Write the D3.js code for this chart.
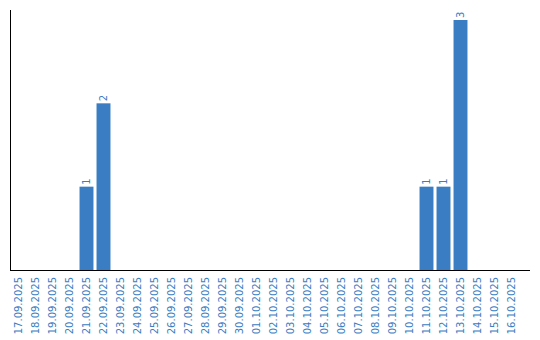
<!DOCTYPE html>
<html>
<head>
<meta charset="utf-8">
<script src="https://cdn.jsdelivr.net/npm/d3@7"></script>
<style>
  body { margin: 0; background: #fff; }
</style>
</head>
<body>
<div id="chart"></div>
<script>
// dates on the x axis
var days = ["17.09.2025", "18.09.2025", "19.09.2025", "20.09.2025", "21.09.2025",
    "22.09.2025", "23.09.2025", "24.09.2025", "25.09.2025", "26.09.2025",
    "27.09.2025", "28.09.2025", "29.09.2025", "30.09.2025", "01.10.2025",
    "02.10.2025", "03.10.2025", "04.10.2025", "05.10.2025", "06.10.2025",
    "07.10.2025", "08.10.2025", "09.10.2025", "10.10.2025", "11.10.2025",
    "12.10.2025", "13.10.2025", "14.10.2025", "15.10.2025", "16.10.2025"];
// counts per day
var counts = [0, 0, 0, 0, 1, 2, 0, 0, 0, 0, 0, 0, 0, 0, 0,
    0, 0, 0, 0, 0, 0, 0, 0, 0, 1, 1, 3, 0, 0, 0];

var blue = "#3a7dc2";
var font = "'DejaVu Sans', Verdana, sans-serif";
var margin = { top: 20, right: 20, bottom: 70, left: 10 },
    width = 540, height = 340,
    plotBottom = height - margin.bottom;

var svg = d3.select("#chart")
    .append("svg")
    .attr("width", width)
    .attr("height", height);

var x = d3.scaleBand()
    .domain(days)
    .range([margin.left, width - margin.right])
    .paddingInner(0.18)
    .paddingOuter(0.09);

var y = d3.scaleLinear()
    .domain([0, 3])
    .range([plotBottom, margin.top]);

var data = days.map(function (d, i) { return { day: d, n: counts[i] }; });
var nonZero = data.filter(function (d) { return d.n > 0; });

// bars
svg.selectAll("rect.bar")
    .data(nonZero)
    .enter().append("rect")
    .attr("class", "bar")
    .attr("x", function (d) { return x(d.day); })
    .attr("y", function (d) { return y(d.n); })
    .attr("width", x.bandwidth())
    .attr("height", function (d) { return y(0) - y(d.n); })
    .attr("fill", blue);

// value labels above the bars
svg.selectAll("text.val")
    .data(nonZero)
    .enter().append("text")
    .attr("class", "val")
    .attr("transform", function (d) {
        return "translate(" + (x(d.day) + x.bandwidth() / 2 + 3.5) + "," + (y(d.n) - 2) + ") rotate(-90)";
    })
    .attr("font-family", font)
    .attr("font-size", "10px")
    .attr("fill", blue)
    .text(function (d) { return d.n; });

// x tick labels
svg.selectAll("text.tick")
    .data(days)
    .enter().append("text")
    .attr("class", "tick")
    .attr("transform", function (d) {
        return "translate(" + (x(d) + x.bandwidth() / 2 + 3.5) + "," + (plotBottom + 7) + ") rotate(-90)";
    })
    .attr("text-anchor", "end")
    .attr("font-family", font)
    .attr("font-size", "10px")
    .attr("fill", blue)
    .text(function (d) { return d; });

// axis lines
svg.append("line")
    .attr("x1", margin.left + 0.5).attr("x2", margin.left + 0.5)
    .attr("y1", 10).attr("y2", plotBottom)
    .attr("stroke", "#000");
svg.append("line")
    .attr("x1", margin.left).attr("x2", 530)
    .attr("y1", plotBottom + 0.5).attr("y2", plotBottom + 0.5)
    .attr("stroke", "#000");
</script>
</body>
</html>
